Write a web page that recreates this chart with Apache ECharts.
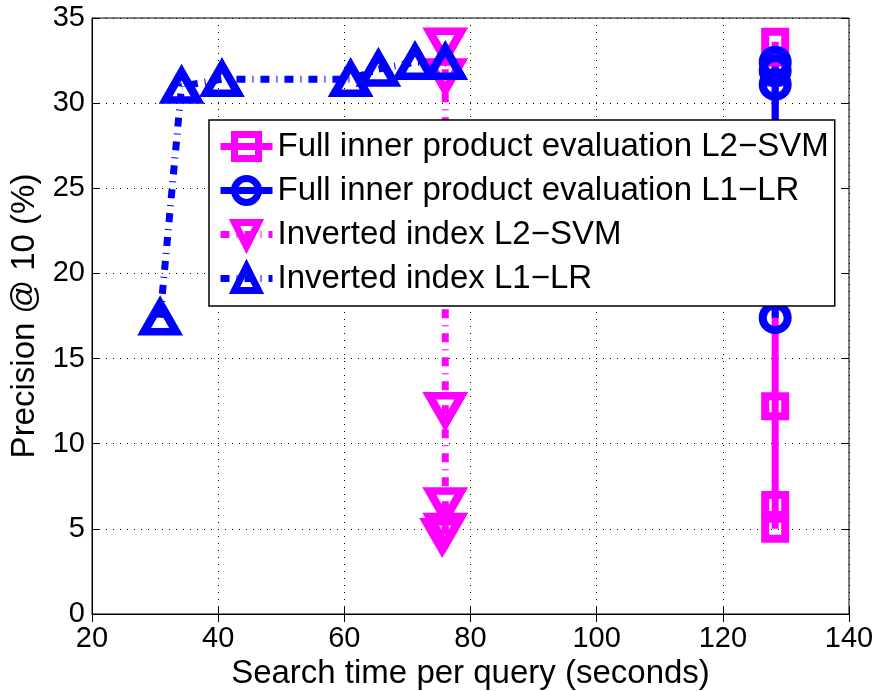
<!DOCTYPE html>
<html>
<head>
<meta charset="utf-8">
<script src="https://cdn.jsdelivr.net/npm/echarts@6/dist/echarts.min.js"></script>
<style>
  html, body { margin: 0; padding: 0; background: #fff; }
  #chart { width: 880px; height: 691px; }
</style>
</head>
<body>
<div id="chart"></div>
<script>
// values
const seriesNames = [
    'Full inner product evaluation L2\u2212SVM',
    'Full inner product evaluation L1\u2212LR',
    'Inverted index L2\u2212SVM',
    'Inverted index L1\u2212LR'
];

const fullSvmTime = [128.3, 128.3, 128.3, 128.3, 128.3];
const fullSvmPrec = [33.6, 31.8, 12.2, 6.4, 5.0];

const fullLrTime = [128.3, 128.3, 128.3, 128.3];
const fullLrPrec = [32.4, 31.9, 31.1, 17.4];

const invSvmTime = [76.0, 76.0, 76.0, 76.0, 76.0, 75.5];
const invSvmPrec = [33.4, 31.6, 12.0, 6.4, 4.9, 4.6];

const invLrTime = [30.8, 34.2, 40.6, 61.0, 65.4, 71.2, 76.0];
const invLrPrec = [17.4, 31.0, 31.4, 31.4, 32.0, 32.4, 32.4];

const xTicks = [20, 40, 60, 80, 100, 120, 140];
const yTicks = [0, 5, 10, 15, 20, 25, 30, 35];

const MAGENTA = '#ff00ff';
const BLUE = '#0000ff';
const FONT = '"Liberation Sans", Arial, sans-serif';
const dashDot = [9, 7, 1, 7];

const zip = (xs, ys) => xs.map((x, i) => [x, ys[i]]);

const makeSeries = (name, xs, ys, color, symbol, size, dashed, rotate) => ({
    name: name,
    type: 'line',
    data: zip(xs, ys),
    symbol: symbol,
    symbolSize: size,
    symbolRotate: rotate || 0,
    showAllSymbol: true,
    color: color,
    lineStyle: { color: color, width: 7, type: dashed ? dashDot : 'solid', cap: 'butt' },
    itemStyle: { color: 'rgba(255,255,255,0)', borderColor: color, borderWidth: 8 },
    emphasis: { disabled: true },
    animation: false
});

const chart = echarts.init(document.getElementById('chart'));

const tickLine = { show: true, inside: true, length: 8, lineStyle: { color: '#000', width: 1 } };
const gridLine = { show: true, lineStyle: { color: '#000', width: 1, type: [1, 6] } };

chart.setOption({
    backgroundColor: '#fff',
    animation: false,
    grid: {
        left: 92, right: 31, top: 18, bottom: 77,
        outerBoundsMode: 'none', containLabel: false,
        show: true, borderColor: '#000', borderWidth: 1
    },
    legend: {
        left: 209,
        top: 120,
        orient: 'vertical',
        data: seriesNames,
        backgroundColor: '#fff',
        borderColor: '#000',
        borderWidth: 1.5,
        borderRadius: 0,
        padding: [10, 6, 11, 8],
        itemGap: 11,
        itemWidth: 52,
        itemHeight: 30,
        lineStyle: { width: 7 },
        itemStyle: { borderWidth: 7 },
        textStyle: { fontFamily: FONT, fontSize: 33, color: '#000' },
        selectedMode: false
    },
    xAxis: [{
        type: 'value',
        min: xTicks[0],
        max: xTicks[xTicks.length - 1],
        interval: 20,
        name: 'Search time per query (seconds)',
        nameLocation: 'middle',
        nameGap: 40,
        nameTextStyle: { fontFamily: FONT, fontSize: 33, color: '#000', verticalAlign: 'top' },
        axisLine: { show: true, lineStyle: { color: '#000', width: 1 } },
        axisTick: tickLine,
        axisLabel: { fontFamily: FONT, fontSize: 29, color: '#000', margin: 10 },
        splitLine: gridLine
    }, {
        type: 'value',
        position: 'top',
        min: xTicks[0],
        max: xTicks[xTicks.length - 1],
        interval: 20,
        axisLine: { show: false },
        axisTick: tickLine,
        axisLabel: { show: false },
        splitLine: { show: false }
    }],
    yAxis: [{
        type: 'value',
        min: yTicks[0],
        max: yTicks[yTicks.length - 1],
        interval: 5,
        name: 'Precision @ 10 (%)',
        nameLocation: 'middle',
        nameGap: 46,
        nameTextStyle: { fontFamily: FONT, fontSize: 33, color: '#000' },
        axisLine: { show: true, lineStyle: { color: '#000', width: 1 } },
        axisTick: tickLine,
        axisLabel: { fontFamily: FONT, fontSize: 29, color: '#000', margin: 7 },
        splitLine: gridLine
    }, {
        type: 'value',
        position: 'right',
        min: yTicks[0],
        max: yTicks[yTicks.length - 1],
        interval: 5,
        axisLine: { show: false },
        axisTick: tickLine,
        axisLabel: { show: false },
        splitLine: { show: false }
    }],
    series: [
        makeSeries(seriesNames[0], fullSvmTime, fullSvmPrec, MAGENTA, 'rect', 20, false),
        makeSeries(seriesNames[1], fullLrTime, fullLrPrec, BLUE, 'circle', 25, false),
        makeSeries(seriesNames[2], invSvmTime, invSvmPrec, MAGENTA, 'triangle', [32, 28], true, 180),
        makeSeries(seriesNames[3], invLrTime, invLrPrec, BLUE, 'triangle', [32, 28], true)
    ]
});

window.addEventListener('resize', () => chart.resize());
</script>
</body>
</html>
